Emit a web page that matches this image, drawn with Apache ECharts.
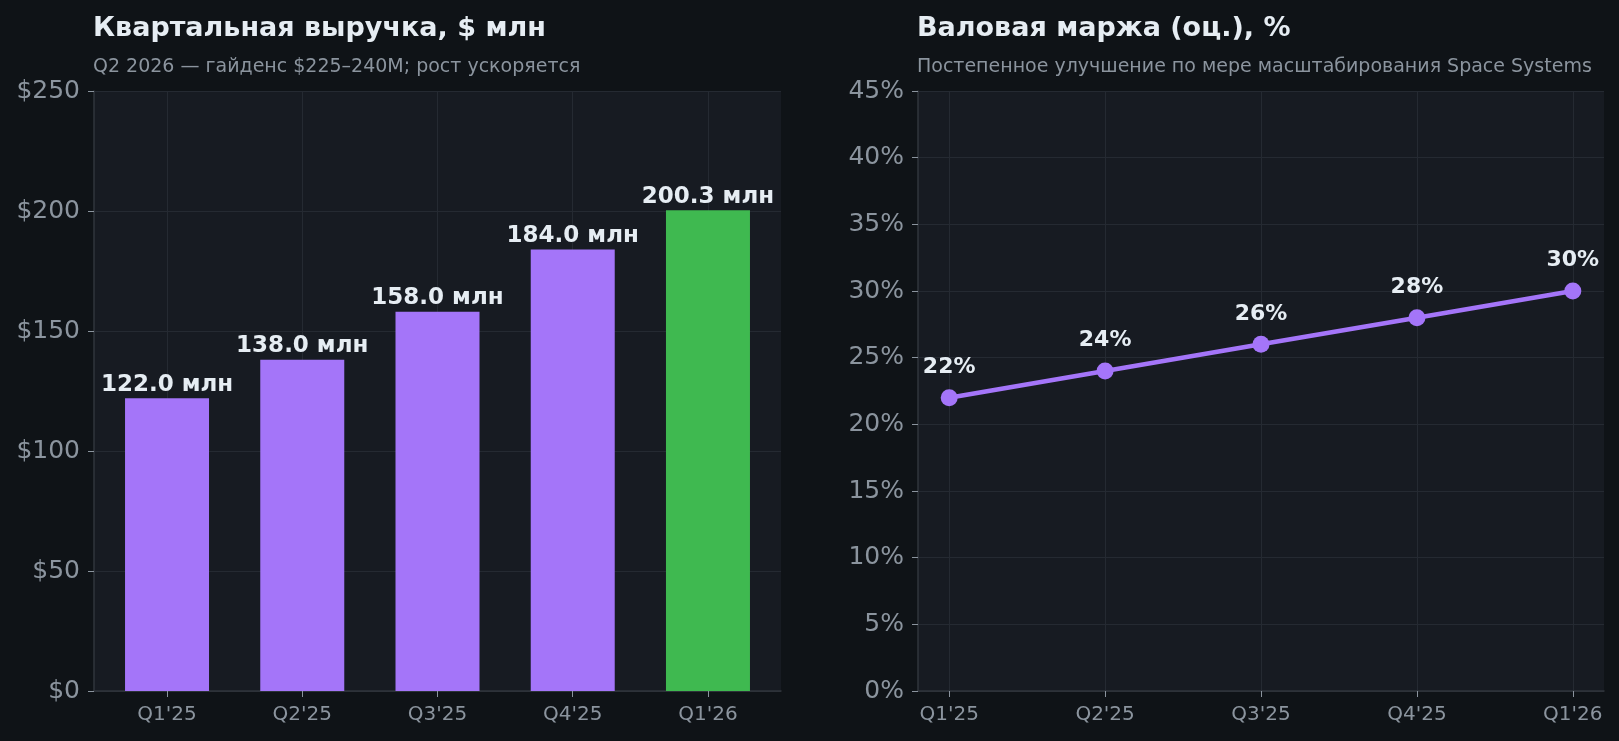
<!DOCTYPE html>
<html lang="ru">
<head>
    <meta charset="UTF-8">
    <title>Выручка и маржа</title>
    <script src="https://cdn.jsdelivr.net/npm/echarts@6/dist/echarts.min.js"></script>
    <style>
        html, body { margin: 0; padding: 0; background: #0f1317; }
        #container { width: 1619px; height: 741px; }
    </style>
</head>
<body>
<div id="container"></div>
<script>
    // данные
    var quarters = ["Q1'25", "Q2'25", "Q3'25", "Q4'25", "Q1'26"];
    var revenue = [122.0, 138.0, 158.0, 184.0, 200.3];
    var margin = [22, 24, 26, 28, 30];
    var revenueTicks = [0, 50, 100, 150, 200, 250];
    var marginTicks = [0, 5, 10, 15, 20, 25, 30, 35, 40, 45];
    var quarterPos = [0, 1, 2, 3, 4];

    var font = 'DejaVu Sans';
    var gridLine = '#252a32';
    var spine = '#30363d';
    var tickText = '#8b949e';
    var purple = '#a475f9';
    var green = '#3fb950';

    var myChart = echarts.init(document.getElementById('container'));

    var barData = revenue.map(function (v, i) {
        return {
            value: [i, v],
            itemStyle: { color: i === revenue.length - 1 ? green : purple }
        };
    });
    var lineData = margin.map(function (v, i) { return [i, v]; });

    // общий вид оси X (квартал по индексу)
    function quarterAxis(grid, min, max) {
        return {
            type: 'value',
            gridIndex: grid,
            min: min,
            max: max,
            axisLine: { onZero: false, lineStyle: { color: spine, width: 1.5 } },
            axisTick: { customValues: quarterPos, length: 6, lineStyle: { color: tickText } },
            axisLabel: {
                customValues: quarterPos,
                color: tickText, fontSize: 20, margin: 14,
                formatter: function (v) { return quarters[Math.round(v)]; }
            },
            splitLine: { show: true, lineStyle: { color: gridLine } }
        };
    }

    function valueAxis(grid, ticks, step, fmt) {
        return {
            type: 'value',
            gridIndex: grid,
            min: ticks[0],
            max: ticks[ticks.length - 1],
            interval: step,
            axisLine: { show: true, onZero: false, lineStyle: { color: spine, width: 1.5 } },
            axisTick: { show: true, length: 6, lineStyle: { color: tickText } },
            axisLabel: { color: tickText, fontSize: 25, margin: 14, formatter: fmt },
            splitLine: { show: true, lineStyle: { color: gridLine } }
        };
    }

    var titleStyle = { color: '#e6edf3', fontSize: 27, fontWeight: 'bold', fontFamily: font };
    var subStyle = { color: tickText, fontSize: 19, fontFamily: font };

    var option = {
        backgroundColor: '#0f1317',
        animation: false,
        textStyle: { fontFamily: font },
        title: [
            {
                text: 'Квартальная выручка, $ млн',
                subtext: 'Q2 2026 — гайденс $225–240M; рост ускоряется',
                left: 88, top: 10, itemGap: 16,
                textStyle: titleStyle,
                subtextStyle: subStyle
            },
            {
                text: 'Валовая маржа (оц.), %',
                subtext: 'Постепенное улучшение по мере масштабирования Space Systems',
                left: 912, top: 10, itemGap: 16,
                textStyle: titleStyle,
                subtextStyle: subStyle
            }
        ],
        grid: [
            { left: 94, right: 838, top: 91, bottom: 50, show: true, backgroundColor: '#171b22', borderWidth: 0 },
            { left: 918, right: 15, top: 91, bottom: 50, show: true, backgroundColor: '#171b22', borderWidth: 0 }
        ],
        xAxis: [
            quarterAxis(0, -0.54, 4.54),
            quarterAxis(1, -0.2, 4.2)
        ],
        yAxis: [
            valueAxis(0, revenueTicks, 50, function (v) { return '$' + v; }),
            valueAxis(1, marginTicks, 5, function (v) { return v + '%'; })
        ],
        series: [
            {
                name: 'Выручка',
                type: 'bar',
                xAxisIndex: 0,
                yAxisIndex: 0,
                barWidth: 84,
                data: barData,
                label: {
                    show: true,
                    position: 'top',
                    distance: 2,
                    color: '#e6edf3',
                    fontSize: 23,
                    fontWeight: 'bold',
                    formatter: function (p) { return p.value[1].toFixed(1) + ' млн'; }
                }
            },
            {
                name: 'Маржа',
                type: 'line',
                xAxisIndex: 1,
                yAxisIndex: 1,
                data: lineData,
                symbol: 'circle',
                symbolSize: 17,
                lineStyle: { color: purple, width: 4.5 },
                itemStyle: { color: purple },
                label: {
                    show: true,
                    position: 'top',
                    distance: 11,
                    color: '#e6edf3',
                    fontSize: 22,
                    fontWeight: 'bold',
                    formatter: function (p) { return p.value[1] + '%'; }
                }
            }
        ]
    };

    myChart.setOption(option);
</script>
</body>
</html>
